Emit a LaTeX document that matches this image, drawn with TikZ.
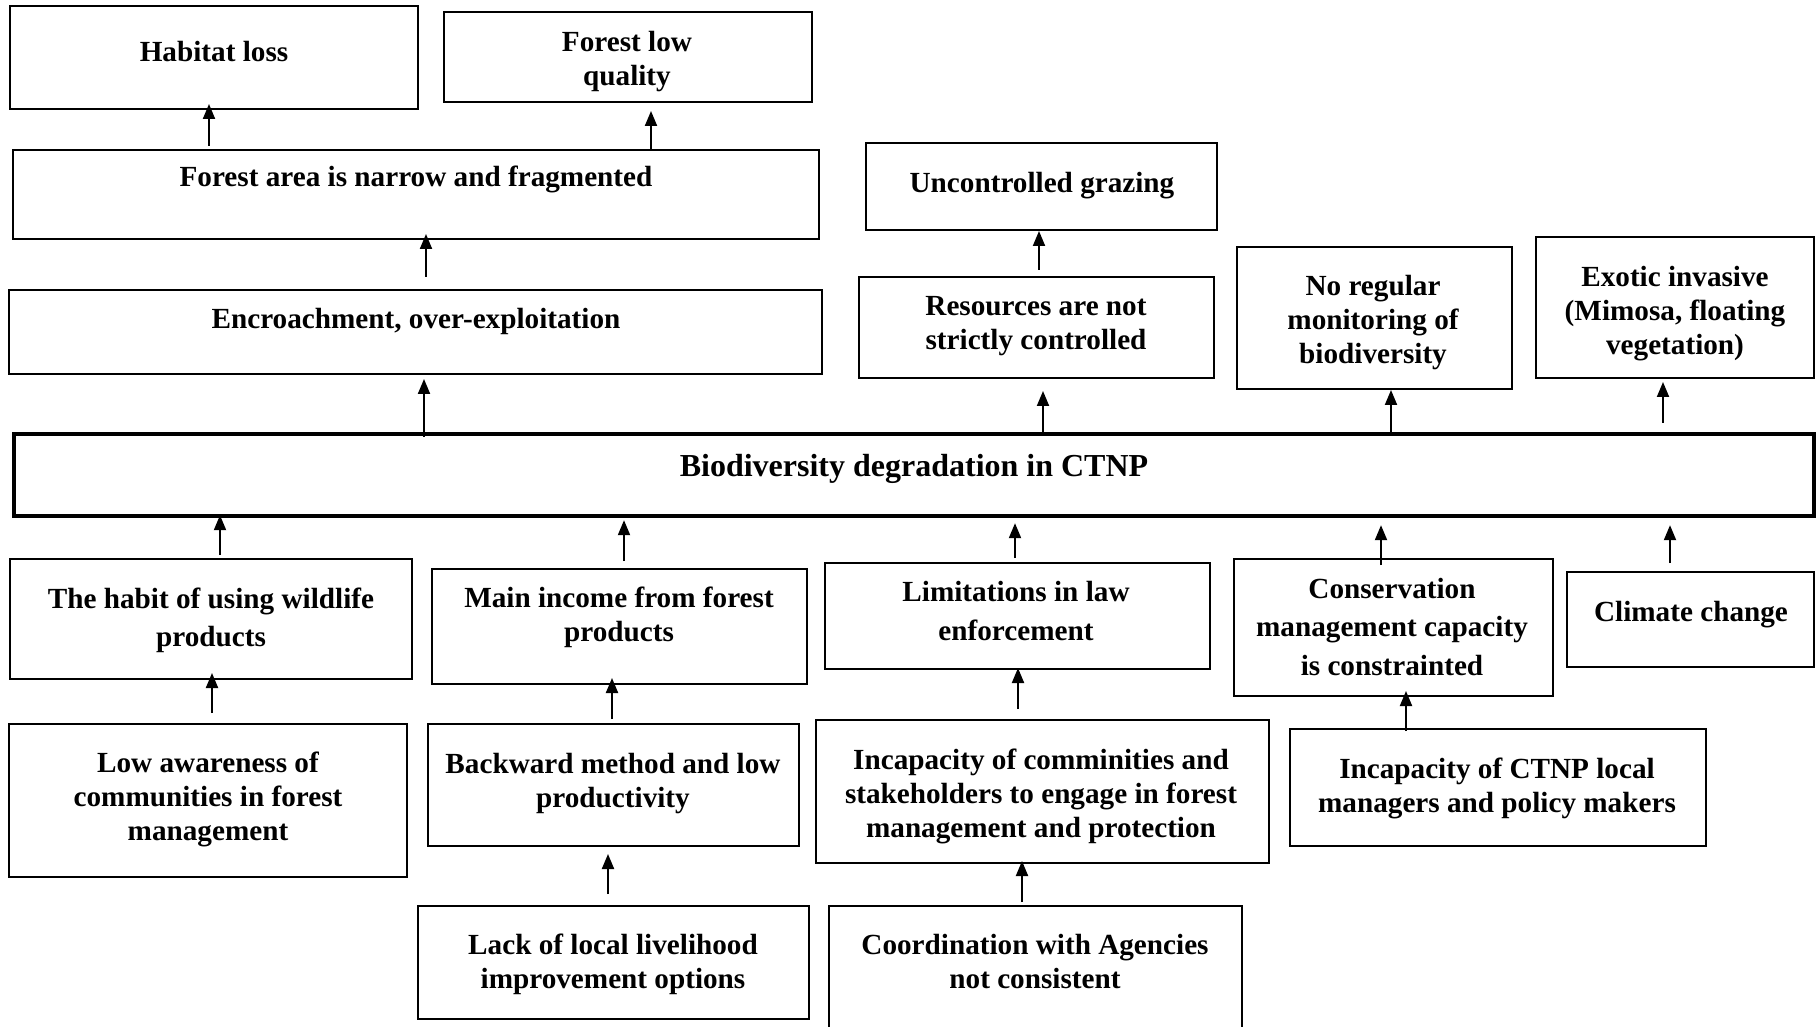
\documentclass[tikz,border=0pt]{standalone}
\usepackage{fontspec}
\setmainfont{Liberation Serif}
\usetikzlibrary{fit,arrows.meta}
\begin{document}
\begin{tikzpicture}[x=0.5pt,y=-0.5pt,
  box/.style={draw, line width=1pt, inner sep=0pt, fill=none},
  bigbox/.style={draw, line width=2.2pt, inner sep=0pt},
  txt/.style={align=center, inner sep=0pt, font=\fontsize{14.6}{17}\selectfont\bfseries},
  txtw/.style={align=center, inner sep=0pt, font=\fontsize{14.6}{19.3}\selectfont\bfseries},
  txtb/.style={align=center, inner sep=0pt, font=\fontsize{16}{19}\selectfont\bfseries},
  arr/.style={line width=1pt, -{Triangle[length=7.5pt,width=6pt]}}]
\clip (0,0) rectangle (1817,1027);
\fill[white] (0,0) rectangle (1817,1027);

% boxes
\node[box, fit={(10,6) (418,109)}] (hl) {};
\node[box, fit={(444,12) (812,102)}] (flq) {};
\node[box, fit={(13,150) (819,239)}] (fa) {};
\node[box, fit={(9,290) (822,374)}] (enc) {};
\node[box, fit={(866,143) (1217,230)}] (ug) {};
\node[box, fit={(859,277) (1214,378)}] (res) {};
\node[box, fit={(1237,247) (1512,389)}] (nrm) {};
\node[box, fit={(1536,237) (1814,378)}] (exo) {};
\node[bigbox, fit={(14,434) (1814,516)}] (bio) {};
\node[box, fit={(10,559) (412,679)}] (hab) {};
\node[box, fit={(432,569) (807,684)}] (inc) {};
\node[box, fit={(825,563) (1210,669)}] (lim) {};
\node[box, fit={(1234,559) (1553,696)}] (cons) {};
\node[box, fit={(1567,572) (1814,667)}] (clim) {};
\node[box, fit={(9,724) (407,877)}] (low) {};
\node[box, fit={(428,724) (799,846)}] (back) {};
\node[box, fit={(816,720) (1269,863)}] (icom) {};
\node[box, fit={(1290,729) (1706,846)}] (ictnp) {};
\node[box, fit={(418,906) (809,1019)}] (lack) {};
\node[box, fit={(829,906) (1242,1060)}] (coord) {};

% texts
\node[txt] (hlT) at (214,52) {Habitat loss};
\node[txt] (flqT) at (627,61.5) {Forest low\\quality};
\node[txt] (faT) at (416,179.5) {Forest area is narrow and fragmented};
\node[txt] (encT) at (416,321) {Encroachment, over-exploitation};
\node[txt] (ugT) at (1042,185.5) {Uncontrolled grazing};
\node[txt] (resT) at (1036,326.5) {Resources are not\\strictly controlled};
\node[txt] (nrmT) at (1373,322.5) {No regular\\monitoring of\\biodiversity};
\node[txt] (exoT) at (1675,313.5) {Exotic invasive\\(Mimosa, floating\\vegetation)};
\node[txtb] (bioT) at (914,468.5) {Biodiversity degradation in CTNP};
\node[txtw] (habT) at (211,620.5) {The habit of using wildlife\\products};
\node[txt] (incT) at (619,617.5) {Main income from forest\\products};
\node[txtw] (limT) at (1016,611) {Limitations in law\\enforcement};
\node[txtw] (consT) at (1392,627) {Conservation\\management capacity\\is constrainted};
\node[txt] (climT) at (1691,614.5) {Climate change};
\node[txt] (lowT) at (208,799.5) {Low awareness of\\communities in forest\\management};
\node[txt] (backT) at (613,783.5) {Backward method and low\\productivity};
\node[txt] (icomT) at (1041,796.5) {Incapacity of comminities and\\stakeholders to engage in forest\\management and protection};
\node[txt] (ictnpT) at (1497,788) {Incapacity of CTNP local\\managers and policy makers};
\node[txt] (lackT) at (613,964.5) {Lack of local livelihood\\improvement options};
\node[txt] (coordT) at (1035,962) {Coordination with Agencies\\not consistent};

% arrows
\draw[arr, shorten <=1.5pt, shorten >=-3pt] (fa.north -| 209,0) -- (hl.south -| 209,0);
\draw[arr, shorten >=4pt] (fa.north -| 651,0) -- (flq.south -| 651,0);
\draw[arr, shorten <=6pt, shorten >=-3pt] (enc.north -| 426,0) -- (fa.south -| 426,0);
\draw[arr, shorten <=-2.5pt, shorten >=2pt] (bio.north -| 424,0) -- (enc.south -| 424,0);
\draw[arr, shorten >=6pt] (bio.north -| 1043,0) -- (res.south -| 1043,0);
\draw[arr, shorten <=3pt] (res.north -| 1039,0) -- (ug.south -| 1039,0);
\draw[arr] (bio.north -| 1391,0) -- (nrm.south -| 1391,0);
\draw[arr, shorten <=4.5pt, shorten >=1.5pt] (bio.north -| 1663,0) -- (exo.south -| 1663,0);
\draw[arr, shorten <=1.5pt, shorten >=-1.5pt] (hab.north -| 220,0) -- (bio.south -| 220,0);
\draw[arr, shorten <=3.5pt, shorten >=1pt] (inc.north -| 624,0) -- (bio.south -| 624,0);
\draw[arr, shorten <=2pt, shorten >=2.5pt] (lim.north -| 1015,0) -- (bio.south -| 1015,0);
\draw[arr, shorten <=-3.5pt, shorten >=3.5pt] (cons.north -| 1381,0) -- (bio.south -| 1381,0);
\draw[arr, shorten <=4pt, shorten >=3.5pt] (clim.north -| 1670,0) -- (bio.south -| 1670,0);
\draw[arr, shorten <=5pt, shorten >=-3.5pt] (low.north -| 212,0) -- (hab.south -| 212,0);
\draw[arr, shorten <=2pt, shorten >=-3.5pt] (back.north -| 612,0) -- (inc.south -| 612,0);
\draw[arr, shorten <=5pt, shorten >=-1pt] (icom.north -| 1018,0) -- (lim.south -| 1018,0);
\draw[arr, shorten <=-1.5pt, shorten >=-3pt] (ictnp.north -| 1406,0) -- (cons.south -| 1406,0);
\draw[arr, shorten <=5.5pt, shorten >=3.5pt] (lack.north -| 608,0) -- (back.south -| 608,0);
\draw[arr, shorten <=1.5pt, shorten >=-1.5pt] (coord.north -| 1022,0) -- (icom.south -| 1022,0);
\end{tikzpicture}
\end{document}
